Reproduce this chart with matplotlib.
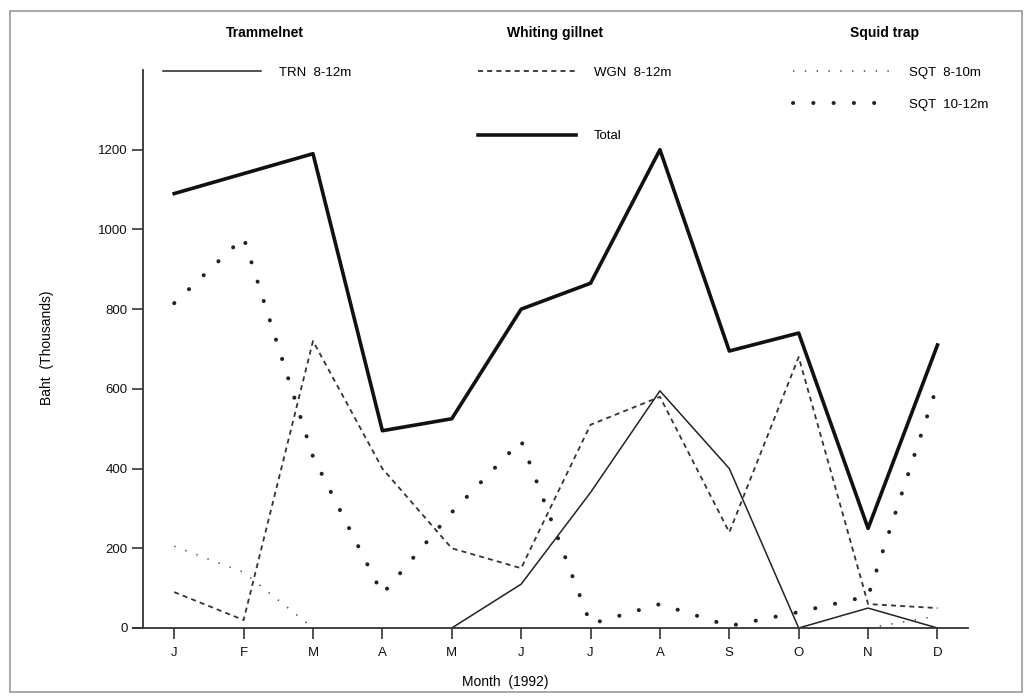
import matplotlib
matplotlib.use("Agg")
import matplotlib.pyplot as plt
from matplotlib.patches import Rectangle
import numpy as np

plt.rcParams['font.family'] = ['Liberation Sans', 'DejaVu Sans']
plt.rcParams['lines.scale_dashes'] = False

months = ["J", "F", "M", "A", "M", "J", "J", "A", "S", "O", "N", "D"]
trn_8_12 = [np.nan, np.nan, np.nan, np.nan, 0, 110, 340, 595, 400, 0, 50, 0]
wgn_8_12 = [90, 20, 720, 400, 200, 150, 510, 580, 240, 680, 60, 50]
sqt_8_10 = [205, 140, 0, np.nan, np.nan, np.nan, np.nan, np.nan, np.nan, np.nan, 0, 30]
sqt_10_12 = [815, 980, 430, 85, 290, 470, 10, 60, 5, 40, 80, 610]
total = [1090, 1140, 1190, 495, 525, 800, 865, 1200, 695, 740, 250, 710]
yticks = [0, 200, 400, 600, 800, 1000, 1200]

W, H = 1029, 699
fig = plt.figure(figsize=(W / 100, H / 100), dpi=100)
ax = fig.add_axes([143 / W, 1 - 628 / H, (968 - 143) / W, (628 - 70) / H])

x = np.arange(len(months))
l_trn, = ax.plot(x, trn_8_12, color='#222222', lw=1.1, ls='-')
l_wgn, = ax.plot(x, wgn_8_12, color='#333333', lw=1.3, ls=(0, (3.6, 3.0)))
l_s1, = ax.plot(x, sqt_8_10, color='#555555', lw=1.2, ls=(0, (1.0, 7.5)))
l_s2, = ax.plot(x, sqt_10_12, color='#222222', lw=2.9, ls=(0, (0.1, 14.5)),
                dash_capstyle='round')
l_tot, = ax.plot(x, total, color='#111111', lw=2.6, ls='-')

ax.set_xlim(-0.45, 11.44)
ax.set_ylim(0, 1400)
ax.set_xticks(x)
ax.set_xticklabels(months)
ax.set_yticks(yticks)
ax.spines['top'].set_visible(False)
ax.spines['right'].set_visible(False)
for s in ['left', 'bottom']:
    ax.spines[s].set_linewidth(1.3)
    ax.spines[s].set_color('#333333')
ax.spines['bottom'].set_bounds(-0.6, 11.44)
ax.tick_params(axis='both', direction='out', length=8, width=1.2,
               colors='#333333', labelsize=9.5, labelcolor='#111111')
ax.tick_params(axis='y', pad=3)
ax.tick_params(axis='x', pad=6)
ax.set_xlabel("Month  (1992)", fontsize=10)
ax.set_ylabel("Baht  (Thousands)", fontsize=10)
ax.xaxis.set_label_coords((505 - 143) / (968 - 143), -(675 - 628) / (628 - 70))
ax.yaxis.set_label_coords(-(143 - 54) / (968 - 143), (628 - 348) / (628 - 70))

# group titles
for tx, label in [(265, "Trammelnet"), (555, "Whiting gillnet"), (885, "Squid trap")]:
    fig.text(tx / W, 1 - 33 / H, label, ha='center', va='center',
             fontsize=10, fontweight='bold')

# legend entries
entries = [(l_trn, "TRN  8-12m", 163, 73), (l_wgn, "WGN  8-12m", 478, 73),
           (l_s1, "SQT  8-10m", 793, 73), (l_s2, "SQT  10-12m", 793, 105),
           (l_tot, "Total", 478, 136)]
for h, lab, px, py in entries:
    fig.legend([h], [lab], loc='center left',
               bbox_to_anchor=(px / W, 1 - py / H),
               frameon=False, borderpad=0, borderaxespad=0,
               handlelength=7.4, handletextpad=1.4, fontsize=9.5)

fig.patches.append(Rectangle((10 / W, 7 / H), 1012 / W, 681 / H,
                             transform=fig.transFigure, fill=False,
                             edgecolor='#999999', lw=1.2))

fig.savefig("out.png", dpi=100)
